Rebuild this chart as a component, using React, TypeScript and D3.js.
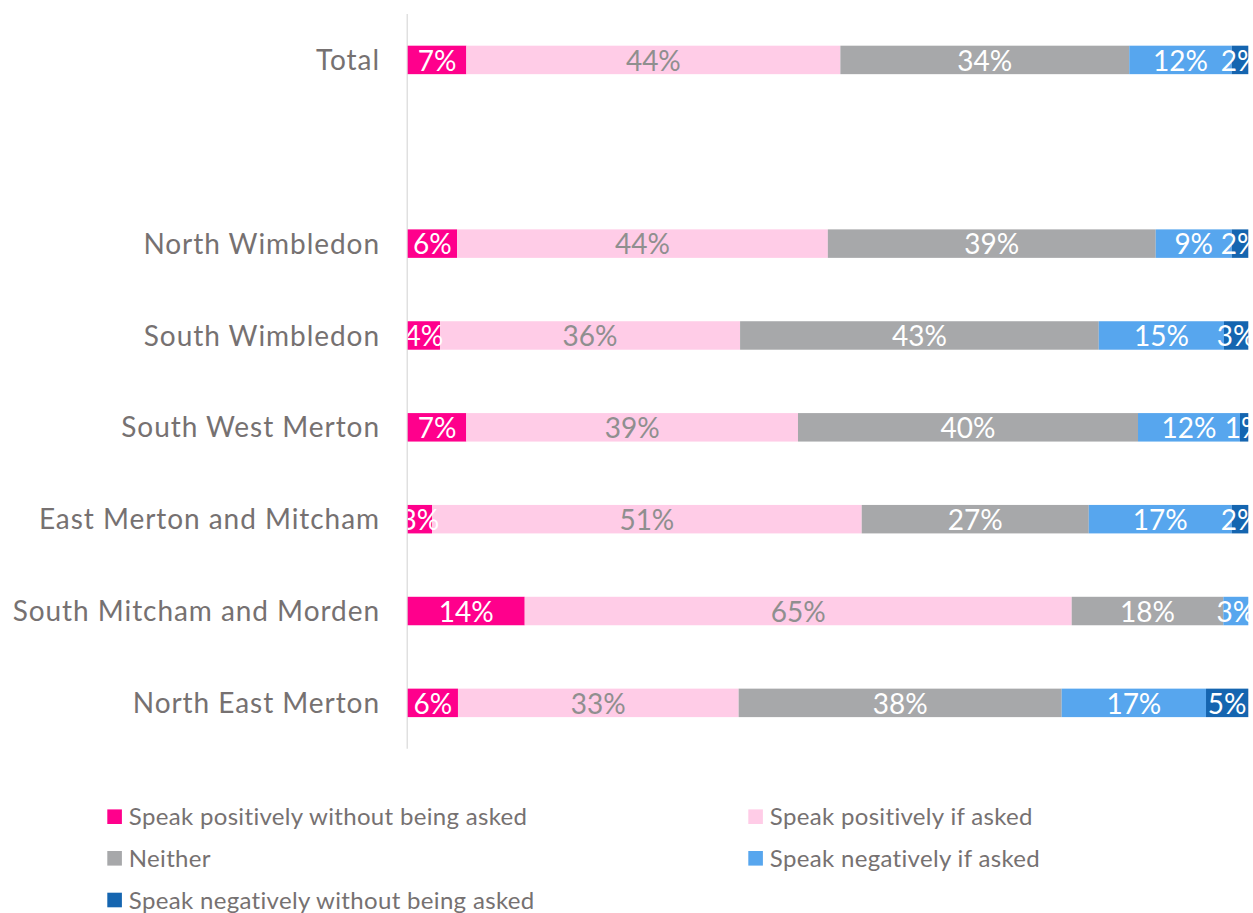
import React from "react";
import * as d3 from "d3";

const categories = [
  "Total",
  "",
  "North Wimbledon",
  "South Wimbledon",
  "South West Merton",
  "East Merton and Mitcham",
  "South Mitcham and Morden",
  "North East Merton",
];

const seriesNames = [
  "Speak positively without being asked",
  "Speak positively if asked",
  "Neither",
  "Speak negatively if asked",
  "Speak negatively without being asked",
];

const seriesColors = ["#FF008C", "#FFCCE7", "#A7A8AA", "#57A6EE", "#1565B0"];
const labelColors = ["#FFFFFF", "#8F8F8F", "#FFFFFF", "#FFFFFF", "#FFFFFF"];

// values per category, in series order (percent)
const posUnasked = [6.97, 0, 5.87, 3.84, 6.97, 2.89, 13.92, 5.98];
const posAsked = [44.45, 0, 44.1, 35.7, 39.46, 51.1, 65.07, 33.39];
const neither = [34.33, 0, 39.0, 42.67, 40.45, 27.0, 18.04, 38.43];
const negAsked = [12.18, 0, 9.04, 14.9, 12.13, 17.0, 2.97, 17.17];
const negUnasked = [1.97, 0, 1.97, 2.89, 0.99, 1.97, 0, 5.03];

const seriesValues = [posUnasked, posAsked, neither, negAsked, negUnasked];

const FONT = "Lato, 'Open Sans', sans-serif";

export default function App() {
  const W = 1253;
  const H = 913;
  const x0 = 407.7;
  const x1 = 1248.3;
  const top = 14;
  const bottom = 748.8;

  const rows = categories.map((c, i) => {
    const r: any = { key: String(i), name: c };
    seriesNames.forEach((s, j) => (r[s] = seriesValues[j][i]));
    return r;
  });

  const stack = d3.stack<any>().keys(seriesNames).offset(d3.stackOffsetExpand);
  const stacked = stack(rows);

  const x = d3.scaleLinear().domain([0, 1]).range([x0, x1]);
  const y = d3
    .scaleBand<string>()
    .domain(rows.map((r) => r.key))
    .range([top, bottom])
    .paddingInner(0.69)
    .paddingOuter(0.345);

  const legendItems = [
    { i: 0, x: 107.3, y: 816.7 },
    { i: 1, x: 748.3, y: 816.7 },
    { i: 2, x: 107.3, y: 858.3 },
    { i: 3, x: 748.3, y: 858.3 },
    { i: 4, x: 107.3, y: 900 },
  ];

  return (
    <div style={{ position: "absolute", left: 0, top: 0 }}>
      <svg width={W} height={H} style={{ display: "block" }} fontFamily={FONT}>
        <defs>
          <clipPath id="plotclip">
            <rect x={x0} y={0} width={W - x0} height={bottom + 10} />
          </clipPath>
        </defs>
        <rect x={0} y={0} width={W} height={H} fill="#ffffff" />
        <line x1={407.2} x2={407.2} y1={top} y2={bottom} stroke="#D9D9D9" strokeWidth={1.2} />
        {rows.map((r) =>
          r.name ? (
            <text
              key={"c" + r.key}
              x={380}
              y={(y(r.key) as number) + y.bandwidth() / 2}
              dy="0.36em"
              textAnchor="end"
              fontSize={28}
              letterSpacing={0.95}
              fill="#767171"
            >
              {r.name}
            </text>
          ) : null
        )}
        {stacked.map((layer, j) => (
          <g key={"s" + j} fill={seriesColors[j]}>
            {layer.map((d, i) =>
              d[1] - d[0] > 0 ? (
                <rect
                  key={i}
                  x={x(d[0])}
                  width={x(d[1]) - x(d[0])}
                  y={y(rows[i].key)}
                  height={y.bandwidth()}
                />
              ) : null
            )}
          </g>
        ))}
        <g clipPath="url(#plotclip)">
          {stacked.map((layer, j) =>
            layer.map((d, i) => {
              const v = seriesValues[j][i];
              if (!(v > 0)) return null;
              return (
                <text
                  key={"l" + j + "-" + i}
                  x={(x(d[0]) + x(d[1])) / 2}
                  y={(y(rows[i].key) as number) + y.bandwidth() / 2}
                  dy="0.38em"
                  textAnchor="middle"
                  fontSize={28}
                  fill={labelColors[j]}
                >
                  {Math.round(v) + "%"}
                </text>
              );
            })
          )}
        </g>
        {legendItems.map((it) => (
          <g key={"lg" + it.i}>
            <rect x={it.x} y={it.y - 7.3} width={14.6} height={14.6} fill={seriesColors[it.i]} />
            <text x={it.x + 21.5} y={it.y} dy="0.36em" fontSize={24} letterSpacing={0.33} fill="#767171">
              {seriesNames[it.i]}
            </text>
          </g>
        ))}
      </svg>
    </div>
  );
}
